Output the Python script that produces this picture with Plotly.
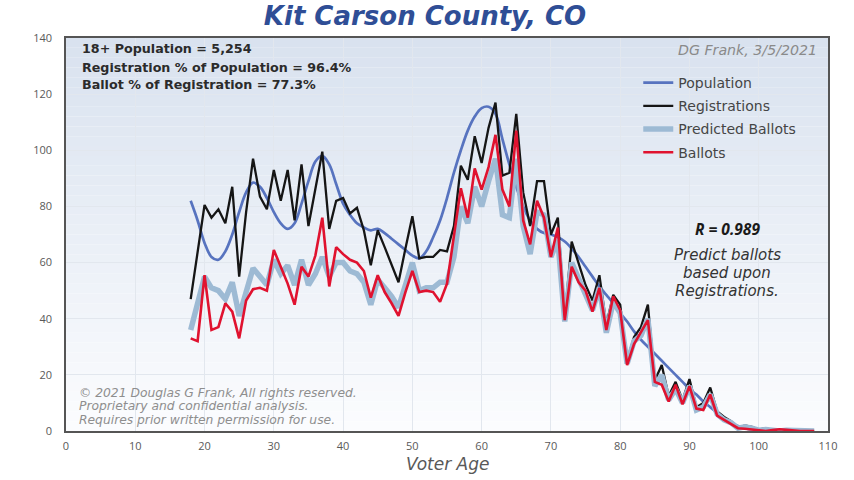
import plotly.graph_objects as go

# ---------------- data ----------------
ages_pop = list(range(18, 101))
population = [82, 75, 67, 62, 61, 64, 70, 78, 85, 88.5, 87, 83, 78, 74, 72, 74, 81, 89, 96, 98, 95, 88, 81,
              77, 74, 72.5, 71.5, 72, 70.5, 68.5, 66.5, 64.5, 62.5, 61.5, 64, 69, 75, 83, 92, 100, 107, 112,
              115, 115.5, 113, 104, 95, 87, 80, 75, 72, 70.5, 70, 69, 67.5, 65, 62, 58.5, 55, 51.5, 48.5,
              45.5, 42, 39, 35.5, 32.5, 30, 27.5, 25, 22.5, 20, 17.5, 15, 13, 10.5, 8.5, 6.5, 4.5, 3, 1.8,
              1, 0.5, 0.2]

ages = list(range(18, 109))
registrations = [47, 64, 80.5, 76, 79, 74, 87, 55, 78, 97, 83.5, 79, 93, 82, 93, 75, 95, 73, 87, 99.5, 72, 82,
                 83, 77.5, 79.5, 71.5, 59, 71.5, 65.5, 59.5, 53, 65, 76.5, 61.5, 62, 62, 64.5, 64, 73, 94.5,
                 89.5, 105, 95.5, 108, 117, 91, 92, 113, 85, 73, 89, 89, 70, 76, 40.5, 67.5, 60, 52, 46.5,
                 55.5, 38, 48.5, 45, 25, 33.5, 37, 45, 18, 23.5, 12.5, 17.5, 11, 18.5, 8.5, 10, 15.5, 7, 5,
                 3.5, 1, 2, 1.5, 0.5, 1, 0.3, 0, 0.5, 0.5, 0, 0, 0]
predicted = [36, 45, 55, 51, 50, 47, 53, 41, 50, 58, 55, 52, 61, 56, 59, 52, 61, 52, 56, 62, 55, 60,
             60, 57, 56, 53, 45, 54, 51, 48, 44, 52, 60, 50, 51, 51, 53, 53, 62, 80, 74, 87, 80, 89, 97,
             77, 76, 97, 73, 63, 78, 77, 62, 68, 39, 60, 54, 48, 43, 51, 35, 46, 42, 24, 32, 34, 40, 16,
             20, 11, 15, 10, 16, 7.5, 8.5, 13, 6, 4, 3, 1, 1.5, 1, 0.3, 0.5, 0.2, 0, 0.3, 0.3, 0, 0, 0]
ballots = [33, 32, 55.5, 36, 37, 45.5, 42.5, 33, 46.5, 50.5, 51, 50, 64.5, 58.5, 52.5, 45, 58.5, 55, 62.5, 76,
           51.5, 65.5, 63, 61, 60, 57, 47.5, 55.5, 49.5, 45.5, 41, 49.5, 57, 49.5, 50, 49.5, 46, 52.5, 69,
           86.5, 76, 93.5, 86, 94, 105.5, 86, 80, 107, 75, 66.5, 82, 76, 62, 72.5, 39.5, 58.5, 53, 50, 42.5,
           51, 36, 48, 43, 23.5, 31, 35, 39.5, 17.5, 16.5, 10.5, 16.5, 9.5, 16, 8, 7.5, 13, 5.5, 4, 2.5, 1,
           0.8, 0.5, 0.2, 0, 0.3, 0.6, 0.4, 0.1, 0, 0, 0]

x_ticks = list(range(0, 111, 10))
y_ticks = list(range(0, 141, 20))

stats_lines = ["18+ Population = 5,254", "Registration % of Population = 96.4%", "Ballot % of Registration = 77.3%"]
note_lines = ["Predict ballots", "based upon", "Registrations."]
copy_lines = ["© 2021 Douglas G Frank, All rights reserved.", "Proprietary and confidential analysis.",
              "Requires prior written permission for use."]

FONT = "DejaVu Sans"
FONT2 = "Open Sans"

# plot area in pixels
L, R, T, B = 66, 828, 38, 431


def px(x):
    return (x - L) / (R - L)


def py(y):
    return (B - y) / (B - T)


fig = go.Figure()
fig.add_trace(go.Scatter(x=ages_pop, y=population, mode="lines", name="Population",
                         line=dict(color="#5773BF", width=2.7, shape="spline", smoothing=1.0)))
fig.add_trace(go.Scatter(x=ages, y=registrations, mode="lines", name="Registrations",
                         line=dict(color="#151515", width=2.3)))
fig.add_trace(go.Scatter(x=ages, y=predicted, mode="lines", name="Predicted Ballots",
                         line=dict(color="#9DBAD4", width=5.5)))
fig.add_trace(go.Scatter(x=ages, y=ballots, mode="lines", name="Ballots",
                         line=dict(color="#E0122F", width=2.6)))

# gradient background for the plot area
shapes = []
n = 40
top = (217, 226, 239)
bot = (251, 252, 254)
for i in range(n):
    t = i / (n - 1)
    c = tuple(round(top[k] + (bot[k] - top[k]) * t) for k in range(3))
    y1 = 140 - 140 * i / n
    y0 = 140 - 140 * (i + 1) / n
    shapes.append(dict(type="rect", xref="x", yref="y", x0=0, x1=110, y0=y0, y1=y1,
                       fillcolor="rgb(%d,%d,%d)" % c, line=dict(width=0), layer="below"))

ann = []
for line, yy in zip(stats_lines, [49, 67, 84]):
    ann.append(dict(xref="paper", yref="paper", x=px(80), y=py(yy), xanchor="left", yanchor="middle",
                    text=line, showarrow=False,
                    font=dict(family=FONT, size=12.7, color="#2b2b2b", weight="bold")))
ann.append(dict(xref="paper", yref="paper", x=px(819), y=py(50), xanchor="right", yanchor="middle",
                text="<i>DG Frank, 3/5/2021</i>", showarrow=False,
                font=dict(family=FONT, size=14.2, color="#8a8a8a")))
ann.append(dict(xref="paper", yref="paper", x=px(727), y=py(229), xanchor="center", yanchor="middle",
                text="<b><i>R = 0.989</i></b>", showarrow=False,
                font=dict(family=FONT2, size=15.5, color="#1a1a1a")))
for line, yy in zip(note_lines, [255, 273, 291]):
    ann.append(dict(xref="paper", yref="paper", x=px(727), y=py(yy), xanchor="center", yanchor="middle",
                    text="<i>%s</i>" % line, showarrow=False,
                    font=dict(family=FONT, size=15, color="#333333")))
for line, yy in zip(copy_lines, [393, 406, 420]):
    ann.append(dict(xref="paper", yref="paper", x=px(77), y=py(yy), xanchor="left", yanchor="middle",
                    text="<i>%s</i>" % line, showarrow=False,
                    font=dict(family=FONT, size=12.3, color="#8e8e8e")))
ann.append(dict(xref="paper", yref="paper", x=px(447), y=py(464), xanchor="center", yanchor="middle",
                text="<i>Voter Age</i>", showarrow=False,
                font=dict(family=FONT, size=17, color="#595959")))

fig.update_layout(
    width=854, height=480,
    margin=dict(l=L, r=854 - R, t=T, b=480 - B),
    paper_bgcolor="white", plot_bgcolor="rgba(0,0,0,0)",
    title=dict(text="<b><i>Kit Carson County, CO</i></b>", x=425 / 854, xanchor="center",
               yref="container", y=1 - 16 / 480, yanchor="middle",
               font=dict(family=FONT, size=26, color="#2F4E96")),
    shapes=shapes, annotations=ann,
    showlegend=True,
    legend=dict(x=0.751, y=py(67), xanchor="left", yanchor="top", bgcolor="rgba(0,0,0,0)",
                font=dict(family=FONT, size=14, color="#454545"), tracegroupgap=2,
                itemwidth=30),
)
fig.update_xaxes(range=[0, 110], tickvals=x_ticks, showgrid=True, gridcolor="#e2e7ee", gridwidth=1,
                 zeroline=False, showline=True, linecolor="#555555", linewidth=1.5, mirror=True,
                 ticks="", ticklabelstandoff=4, tickfont=dict(family=FONT2, size=11, color="#595959"))
fig.update_yaxes(range=[0, 140], tickvals=y_ticks, showgrid=True, gridcolor="#e2e7ee", gridwidth=1,
                 zeroline=False, showline=True, linecolor="#555555", linewidth=1.5, mirror=True,
                 ticks="", ticklabelstandoff=10, tickfont=dict(family=FONT2, size=11, color="#595959"))

for i, tr in enumerate(fig.data):
    tr.legendgroup = "g%d" % i

fig.write_html("out.html", config={"displayModeBar": False},
               post_script="document.body.style.margin='0px';")
